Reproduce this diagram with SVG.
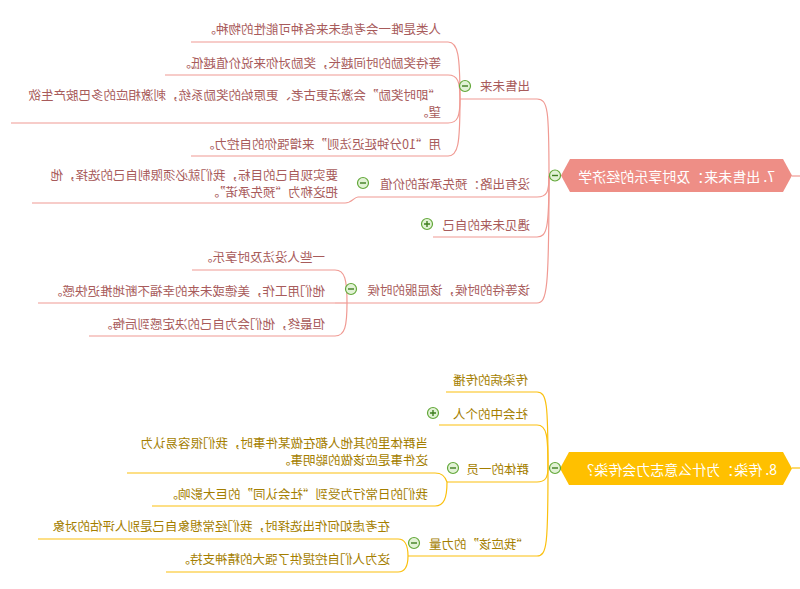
<svg xmlns="http://www.w3.org/2000/svg" width="800" height="589" viewBox="0 0 800 589">
<style>
text{font-family:"Noto Sans CJK SC","Noto Sans",sans-serif;font-size:12.5px;dominant-baseline:central}
.r1 text{fill:#a85b5b}
.r2 text{fill:#a47e00}
.root text{fill:#ffffff;font-size:14px}
.l1{fill:none;stroke:#f09a93;stroke-width:1.2}
.l2{fill:none;stroke:#fbc00e;stroke-width:1.2}
.tog circle{fill:#e2f2d6;stroke:#63a83a;stroke-width:1.2}
.tog path{stroke:#3f7f20;stroke-width:1.4;fill:none}
</style>
<defs>
<g id="minus" class="tog"><circle r="5.5"/><path d="M-3 0H3"/></g>
<g id="plus" class="tog"><circle r="5.5"/><path d="M-3 0H3M0 -3V3"/></g>
</defs>
<rect width="800" height="589" fill="#ffffff"/>
<g transform="matrix(-1 0 0 1 800 0)">
<g id="connectors">
<path class="l1" d="M0 176H8"/>
<path class="l1" d="M251 176C251 110 252 99 263 99"/>
<path class="l1" d="M251 176C251 192 253 197 263 197"/>
<path class="l1" d="M251 176C251 228 253 237 263 237"/>
<path class="l1" d="M251 176C251 290 253 303 263 303"/>
<path class="l1" d="M340 99C340 55 342 42 352 42"/>
<path class="l1" d="M340 99C340 82 342 75 352 75"/>
<path class="l1" d="M340 99C340 116 342 123 352 123"/>
<path class="l1" d="M340 99C340 145 342 156 352 156"/>
<path class="l1" d="M442 197C446 197 448 203 455 203"/>
<path class="l1" d="M453 303C453 280 455 270 465 270"/>
<path class="l1" d="M453 303H465"/>
<path class="l1" d="M453 303C453 326 455 336 465 336"/>
<path class="l2" d="M0 468H8"/>
<path class="l2" d="M252 468C252 404 253 392 263 392"/>
<path class="l2" d="M252 468C252 436 253 425 263 425"/>
<path class="l2" d="M252 468C252 478 255 482 263 482"/>
<path class="l2" d="M252 468C252 544 253 556 263 556"/>
<path class="l2" d="M353 482C355 476 358 473 365 473"/>
<path class="l2" d="M353 482C353 498 356 506 365 506"/>
<path class="l2" d="M392 556C392 545 395 539 402 539"/>
<path class="l2" d="M392 556C392 566 395 572 402 572"/>
</g>
<g class="r1">
<g id="root1" class="root"><polygon points="8,175.5 17,159 230,159 239,175.5 230,192 17,192" fill="#ee8e86"/><text x="25" y="176">7. 出售未来：及时享乐的经济学</text><use href="#minus" x="245" y="175.5"/></g>
<g id="n_sell"><path class="l1" d="M263 99H340"/><text x="270" y="85">出售未来</text><use href="#minus" x="335" y="86"/></g>
<g id="n_sell1"><path class="l1" d="M352 42H609"/><text x="359" y="28">人类是唯一会考虑未来各种可能性的物种。</text></g>
<g id="n_sell2"><path class="l1" d="M352 75H635"/><text x="359" y="62">等待奖励的时间越长，奖励对你来说价值越低。</text></g>
<g id="n_sell3"><path class="l1" d="M352 123H789"/><text x="359" y="94">“即时奖励”会激活更古老、更原始的奖励系统，刺激相应的多巴胺产生欲</text><text x="359" y="111">望。</text></g>
<g id="n_sell4"><path class="l1" d="M352 156H609"/><text x="359" y="143">用“10分钟延迟法则”来增强你的自控力。</text></g>
<g id="n_commit"><path class="l1" d="M263 197H442"/><text x="270" y="183">没有出路：预先承诺的价值</text><use href="#minus" x="437" y="183"/></g>
<g id="n_commit1"><path class="l1" d="M455 203H768"/><text x="462" y="174">要实现自己的目标，我们就必须限制自己的选择，他</text><text x="462" y="191">把这称为“预先承诺”。</text></g>
<g id="n_future"><path class="l1" d="M263 237H367"/><text x="270" y="224">遇见未来的自己</text><use href="#plus" x="373" y="224"/></g>
<g id="n_wait"><path class="l1" d="M263 303H453"/><text x="270" y="289">该等待的时候，该屈服的时候</text><use href="#minus" x="449" y="289"/></g>
<g id="n_wait1"><path class="l1" d="M465 270H608"/><text x="475" y="256">一些人没法及时享乐。</text></g>
<g id="n_wait2"><path class="l1" d="M465 303H762"/><text x="475" y="290">他们用工作，美德或未来的幸福不断地推迟快感。</text></g>
<g id="n_wait3"><path class="l1" d="M465 336H711"/><text x="475" y="323">但最终，他们会为自己的决定感到后悔。</text></g>
</g>
<g class="r2">
<g id="root2" class="root"><polygon points="8,468.5 17,452 231,452 240,468.5 231,485 17,485" fill="#ffc000"/><text x="23" y="469">8. 传染：为什么意志力会传染？</text><use href="#minus" x="245" y="468"/></g>
<g id="n_spread"><path class="l2" d="M263 392H354"/><text x="272" y="379">传染病的传播</text></g>
<g id="n_social"><path class="l2" d="M263 425H361"/><text x="272" y="413">社会中的个人</text><use href="#plus" x="367" y="413"/></g>
<g id="n_group"><path class="l2" d="M263 482H353"/><text x="271" y="468">群体的一员</text><use href="#minus" x="347" y="468"/></g>
<g id="n_group1"><path class="l2" d="M365 473H673"/><text x="372" y="442">当群体里的其他人都在做某件事时，我们很容易认为</text><text x="372" y="459">这件事是应该做的聪明事。</text></g>
<g id="n_group2"><path class="l2" d="M365 506H648"/><text x="372" y="493">我们的日常行为受到“社会认同”的巨大影响。</text></g>
<g id="n_should"><path class="l2" d="M263 556H392"/><text x="271" y="543">“我应该”的力量</text><use href="#minus" x="386" y="543"/></g>
<g id="n_should1"><path class="l2" d="M402 539H762"/><text x="410" y="525">在考虑如何作出选择时，我们经常想象自己是别人评估的对象</text></g>
<g id="n_should2"><path class="l2" d="M402 572H634"/><text x="410" y="558">这为人们自控提供了强大的精神支持。</text></g>
</g>
</g>
</svg>
